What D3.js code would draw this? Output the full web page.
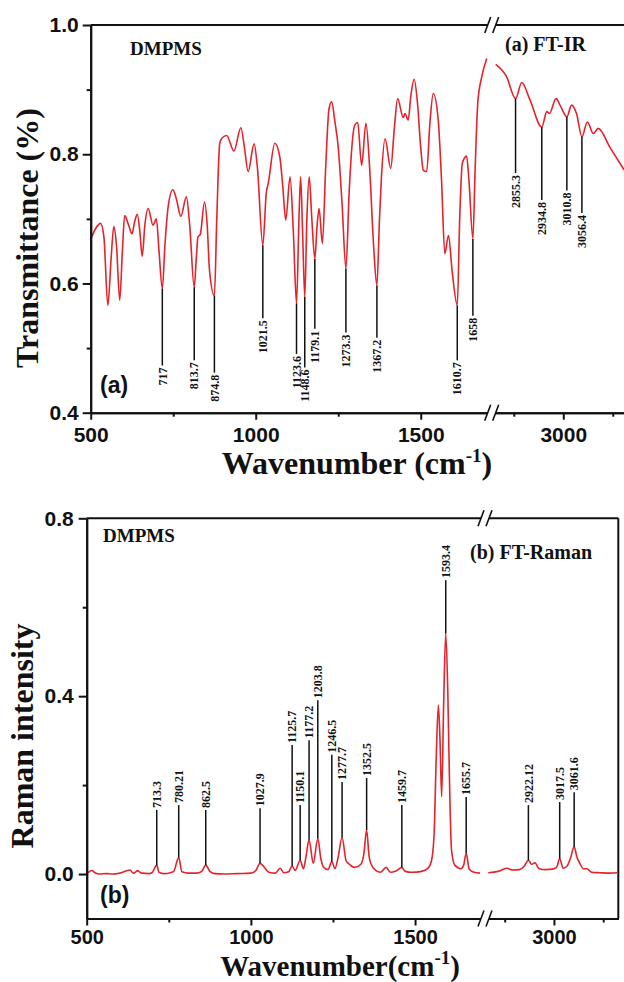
<!DOCTYPE html>
<html>
<head>
<meta charset="utf-8">
<script src="https://cdn.jsdelivr.net/npm/d3@7"></script>
<style>
  body { margin: 0; background: #fff; }
  svg { display: block; }
</style>
</head>
<body>
<svg id="chart" width="624" height="982"></svg>
<script>
// FT-IR spectrum, 500-1715 cm-1 part (wavenumber, transmittance)
const irWaveLow = [500, 515, 530, 540, 552, 562, 570, 578, 588, 596, 603, 615, 625, 633, 641, 649, 656, 664, 674, 689, 699, 707, 717, 725, 735, 749, 760, 773, 790, 800, 813.7, 820, 825, 832, 845, 853, 860, 874.8, 882, 891, 898, 912, 934, 955, 966, 977, 995, 1005, 1021.5, 1032, 1038, 1058, 1073, 1082, 1091, 1104, 1114, 1123.6, 1131, 1136, 1142, 1148.6, 1155, 1162, 1170, 1179.1, 1186, 1192, 1202, 1212, 1222, 1230, 1240, 1250, 1262, 1273.3, 1283, 1291, 1300, 1309, 1321, 1334, 1345, 1357, 1367.2, 1375, 1381, 1392, 1409, 1420, 1430, 1447, 1452, 1462, 1470, 1480, 1490, 1500, 1508, 1518, 1528, 1538, 1553, 1563, 1573, 1584, 1595, 1610.7, 1618, 1626, 1639, 1646, 1658, 1665, 1673, 1685, 1700];
const irTransLow = [0.668, 0.685, 0.693, 0.672, 0.566, 0.640, 0.688, 0.660, 0.574, 0.650, 0.705, 0.690, 0.677, 0.695, 0.707, 0.680, 0.642, 0.690, 0.716, 0.690, 0.700, 0.650, 0.592, 0.660, 0.720, 0.745, 0.730, 0.704, 0.734, 0.690, 0.594, 0.640, 0.672, 0.676, 0.726, 0.690, 0.620, 0.581, 0.700, 0.817, 0.825, 0.829, 0.805, 0.841, 0.810, 0.773, 0.816, 0.780, 0.659, 0.740, 0.755, 0.817, 0.796, 0.750, 0.698, 0.765, 0.680, 0.569, 0.700, 0.765, 0.680, 0.579, 0.700, 0.765, 0.700, 0.638, 0.690, 0.716, 0.662, 0.780, 0.870, 0.881, 0.850, 0.811, 0.720, 0.623, 0.740, 0.809, 0.845, 0.849, 0.783, 0.848, 0.780, 0.660, 0.597, 0.700, 0.765, 0.824, 0.778, 0.840, 0.886, 0.857, 0.863, 0.853, 0.890, 0.916, 0.880, 0.810, 0.775, 0.773, 0.850, 0.894, 0.853, 0.760, 0.646, 0.674, 0.620, 0.566, 0.700, 0.786, 0.797, 0.760, 0.669, 0.780, 0.881, 0.920, 0.948];
// FT-IR spectrum, 2783-3184 cm-1 part
const irWaveHigh = [2795, 2828, 2855.3, 2874, 2899, 2934.8, 2950, 2958, 2978, 2992, 3010.8, 3025, 3040, 3056.4, 3073, 3091, 3106, 3141, 3184];
const irTransHigh = [0.939, 0.920, 0.886, 0.911, 0.884, 0.842, 0.866, 0.863, 0.886, 0.874, 0.858, 0.876, 0.863, 0.827, 0.850, 0.832, 0.840, 0.811, 0.776];

// FT-Raman spectrum, 500-1713 cm-1 part (wavenumber, intensity)
const ramanWaveLow = [500, 505, 515, 525, 540, 560, 580, 600, 632, 642, 655, 668, 690, 700, 713.3, 720, 735, 755, 765, 780.21, 790, 810, 835, 850, 862.5, 875, 890, 920, 960, 1000, 1015, 1027.9, 1040, 1055, 1075, 1089, 1100, 1115, 1125.7, 1135, 1150.1, 1160, 1168, 1177.2, 1190, 1203.8, 1213, 1221, 1235, 1246.5, 1256, 1265, 1277.7, 1290, 1297, 1317, 1335, 1344, 1352.5, 1360, 1365, 1380, 1395, 1412, 1425, 1440, 1452, 1459.7, 1470, 1490, 1520, 1538, 1550, 1558, 1564, 1571, 1576, 1581, 1587, 1593.4, 1600, 1604, 1611, 1621, 1640, 1648, 1655.7, 1665, 1680, 1698];
const ramanIntLow = [0.002, 0.004, 0.008, 0.003, 0.000, 0.001, 0.000, 0.002, 0.009, 0.002, 0.007, 0.002, 0.001, 0.004, 0.020, 0.004, 0.001, 0.003, 0.006, 0.0375, 0.005, 0.002, 0.002, 0.006, 0.020, 0.006, 0.001, 0.000, 0.001, 0.002, 0.008, 0.024, 0.016, 0.004, 0.002, 0.013, 0.003, 0.005, 0.018, 0.008, 0.031, 0.012, 0.040, 0.077, 0.024, 0.080, 0.035, 0.016, 0.010, 0.028, 0.012, 0.035, 0.082, 0.030, 0.024, 0.015, 0.022, 0.045, 0.099, 0.040, 0.024, 0.008, 0.004, 0.015, 0.004, 0.006, 0.012, 0.015, 0.006, 0.004, 0.006, 0.012, 0.030, 0.090, 0.250, 0.380, 0.300, 0.174, 0.380, 0.541, 0.400, 0.241, 0.054, 0.020, 0.012, 0.020, 0.0465, 0.011, 0.004, 0.002];
// FT-Raman spectrum, 2790-3196 cm-1 part
const ramanWaveHigh = [2800, 2830, 2856, 2875, 2895, 2910, 2922.12, 2932, 2942, 2955, 2975, 2995, 3008, 3017.5, 3028, 3040, 3050, 3061.6, 3070, 3079, 3090, 3100, 3115, 3140, 3170, 3195];
const ramanIntHigh = [0.003, 0.006, 0.013, 0.009, 0.010, 0.018, 0.031, 0.022, 0.025, 0.012, 0.010, 0.011, 0.015, 0.035, 0.013, 0.018, 0.035, 0.061, 0.038, 0.024, 0.012, 0.012, 0.004, 0.003, 0.002, 0.003];

// band assignments: wavenumber, curve value at the band, where the marker line stops
const irBands = [717, 813.7, 874.8, 1021.5, 1123.6, 1148.6, 1179.1, 1273.3, 1367.2, 1610.7, 1658, 2855.3, 2934.8, 3010.8, 3056.4];
const irBandT = [0.592, 0.594, 0.581, 0.659, 0.569, 0.579, 0.638, 0.623, 0.597, 0.566, 0.669, 0.886, 0.842, 0.858, 0.827];
const irBandEnd = [0.473, 0.481, 0.462, 0.546, 0.491, 0.470, 0.530, 0.524, 0.516, 0.481, 0.550, 0.771, 0.729, 0.744, 0.709];

const ramanBands = [713.3, 780.21, 862.5, 1027.9, 1125.7, 1150.1, 1177.2, 1203.8, 1246.5, 1277.7, 1352.5, 1459.7, 1593.4, 1655.7, 2922.12, 3017.5, 3061.6];
const ramanBandI = [0.020, 0.0375, 0.020, 0.024, 0.018, 0.031, 0.077, 0.080, 0.028, 0.082, 0.099, 0.015, 0.541, 0.0465, 0.031, 0.035, 0.061];
const ramanBandEnd = [0.144, 0.155, 0.144, 0.148, 0.290, 0.155, 0.301, 0.391, 0.268, 0.207, 0.216, 0.155, 0.661, 0.173, 0.155, 0.162, 0.184];

// tick values
const xMajorLow = [500, 1000, 1500];
const xMinorLow = [750, 1250];
const xMajorHigh = [3000];
const xMinorHigh = [2850, 3150];
const irYMajor = [0.4, 0.6, 0.8, 1.0];
const irYMinor = [0.5, 0.7, 0.9];
const ramanYMajor = [0.0, 0.4, 0.8];
const ramanYMinor = [0.2, 0.6];

const svg = d3.select("#chart");
const red = "#e4232b";
const ink = "#111";
const serif = "'Liberation Serif', 'Times New Roman', serif";
const sans = "'Liberation Sans', Arial, sans-serif";

function styleAxis(g, size) {
  g.select(".domain").attr("stroke", ink).attr("stroke-width", 2);
  g.selectAll(".tick line").attr("stroke", ink).attr("stroke-width", 2);
  g.selectAll(".tick text")
    .attr("fill", ink)
    .style("font-family", sans)
    .style("font-weight", "bold")
    .style("font-size", (size || 21) + "px");
}

function breakMark(x, y) {
  svg.append("polygon")
    .attr("points", `${x-7},${y+8} ${x-1},${y-8} ${x+7},${y-8} ${x+1},${y+8}`)
    .attr("fill", "#fff");
  [-4, 4].forEach(d => {
    svg.append("line")
      .attr("x1", x + d - 3).attr("y1", y + 8)
      .attr("x2", x + d + 3).attr("y2", y - 8)
      .attr("stroke", ink).attr("stroke-width", 1.6);
  });
}

function drawPanel(p) {
  const y0 = p.y.range()[0], y1 = p.y.range()[1];
  const left = p.xLow.range()[0], right = p.xHigh.range()[1];

  // top frame and optional right frame
  svg.append("line").attr("x1", left).attr("x2", right).attr("y1", y1).attr("y2", y1)
    .attr("stroke", ink).attr("stroke-width", 2);
  if (p.rightFrame) {
    svg.append("line").attr("x1", right).attr("x2", right).attr("y1", y1).attr("y2", y0)
      .attr("stroke", ink).attr("stroke-width", 2);
  }

  // spectrum
  const line = x => d3.line().x(d => x(d[0])).y(d => p.y(d[1])).curve(d3.curveMonotoneX);
  svg.append("path").datum(d3.zip(p.waveLow, p.valLow))
    .attr("d", line(p.xLow)).attr("fill", "none").attr("stroke", red).attr("stroke-width", 1.6);
  svg.append("path").datum(d3.zip(p.waveHigh, p.valHigh))
    .attr("d", line(p.xHigh)).attr("fill", "none").attr("stroke", red).attr("stroke-width", 1.6);

  // band markers
  p.bands.forEach((w, i) => {
    const x = w > 2000 ? p.xHigh(w) : p.xLow(w);
    const ya = p.y(p.bandVal[i]), yb = p.y(p.bandEnd[i]);
    svg.append("line").attr("x1", x).attr("x2", x).attr("y1", ya).attr("y2", yb)
      .attr("stroke", ink).attr("stroke-width", 1.5);
    const below = yb > ya;
    svg.append("text")
      .attr("transform", `translate(${x},${below ? yb + 2 : yb - 2}) rotate(-90)`)
      .attr("text-anchor", below ? "end" : "start")
      .attr("dy", "0.35em")
      .style("font-family", serif).style("font-weight", "bold").style("font-size", "12px")
      .attr("fill", ink)
      .text(String(w));
  });

  // axes
  const bx = (scale, major, minor) => {
    svg.append("g").attr("transform", `translate(0,${y0})`)
      .call(d3.axisBottom(scale).tickValues(minor).tickSize(4).tickSizeOuter(0).tickFormat(""))
      .call(styleAxis);
    svg.append("g").attr("transform", `translate(0,${y0})`)
      .call(d3.axisBottom(scale).tickValues(major).tickSize(7).tickSizeOuter(0).tickPadding(p.xPad).tickFormat(d3.format("d")))
      .call(styleAxis, p.xFont);
  };
  bx(p.xLow, xMajorLow, xMinorLow);
  bx(p.xHigh, xMajorHigh, xMinorHigh);

  svg.append("g").attr("transform", `translate(${left},0)`)
    .call(d3.axisLeft(p.y).tickValues(p.yMinor).tickSize(4).tickSizeOuter(0).tickFormat(""))
    .call(styleAxis);
  svg.append("g").attr("transform", `translate(${left},0)`)
    .call(d3.axisLeft(p.y).tickValues(p.yMajor).tickSize(8).tickSizeOuter(0).tickPadding(p.yPad).tickFormat(d3.format(".1f")))
    .call(styleAxis);

  const xb = p.xLow.range()[1];
  breakMark(xb, y1);
  breakMark(xb, y0);
}

// panel (a) FT-IR
const xaLow = d3.scaleLinear().domain([500, 1715]).range([90.7, 491.7]);
const xaHigh = d3.scaleLinear().domain([2783, 3184]).range([491.7, 624]);
const ya = d3.scaleLinear().domain([0.4, 1.0]).range([412.7, 25]);

drawPanel({
  xLow: xaLow, xHigh: xaHigh, y: ya, rightFrame: false,
  waveLow: irWaveLow, valLow: irTransLow, waveHigh: irWaveHigh, valHigh: irTransHigh,
  bands: irBands, bandVal: irBandT, bandEnd: irBandEnd,
  yMajor: irYMajor, yMinor: irYMinor, yPad: 4, xPad: 7, xFont: 21
});

// panel (b) FT-Raman
const xbLow = d3.scaleLinear().domain([500, 1713]).range([86.7, 485]);
const xbHigh = d3.scaleLinear().domain([2790, 3196]).range([485, 618.3]);
const yb = d3.scaleLinear().domain([-0.1, 0.8]).range([918.5, 518.3]);

drawPanel({
  xLow: xbLow, xHigh: xbHigh, y: yb, rightFrame: true,
  waveLow: ramanWaveLow, valLow: ramanIntLow, waveHigh: ramanWaveHigh, valHigh: ramanIntHigh,
  bands: ramanBands, bandVal: ramanBandI, bandEnd: ramanBandEnd,
  yMajor: ramanYMajor, yMinor: ramanYMinor, yPad: 5, xPad: 4, xFont: 20
});

// texts
function label(x, y, txt, font, size, anchor) {
  return svg.append("text").attr("x", x).attr("y", y)
    .attr("text-anchor", anchor || "start")
    .style("font-family", font).style("font-weight", "bold").style("font-size", size + "px")
    .attr("fill", ink).text(txt);
}

label(130, 55, "DMPMS", serif, 19);
label(505, 51, "(a) FT-IR", serif, 20);
label(100, 393, "(a)", sans, 23);
label(103, 542, "DMPMS", serif, 19);
label(470, 559, "(b) FT-Raman", serif, 20);
label(100, 903, "(b)", sans, 23);

// y titles
svg.append("text")
  .attr("transform", "translate(38,238) rotate(-90)")
  .attr("text-anchor", "middle")
  .style("font-family", serif).style("font-weight", "bold").style("font-size", "32px")
  .attr("fill", ink).text("Transmittance (%)");
svg.append("text")
  .attr("transform", "translate(33,736) rotate(-90)")
  .attr("text-anchor", "middle")
  .style("font-family", serif).style("font-weight", "bold").style("font-size", "32px")
  .attr("fill", ink).text("Raman intensity");

// x titles
function xTitle(x, y, main, size) {
  const t = svg.append("text").attr("x", x).attr("y", y).attr("text-anchor", "middle")
    .style("font-family", serif).style("font-weight", "bold").style("font-size", size + "px")
    .attr("fill", ink);
  t.append("tspan").text(main);
  t.append("tspan").attr("dy", -12).style("font-size", "19px").text("-1");
  t.append("tspan").attr("dy", 12).text(")");
}
xTitle(357, 474, "Wavenumber (cm", 32);
xTitle(340, 975.5, "Wavenumber(cm", 29);
</script>
</body>
</html>
